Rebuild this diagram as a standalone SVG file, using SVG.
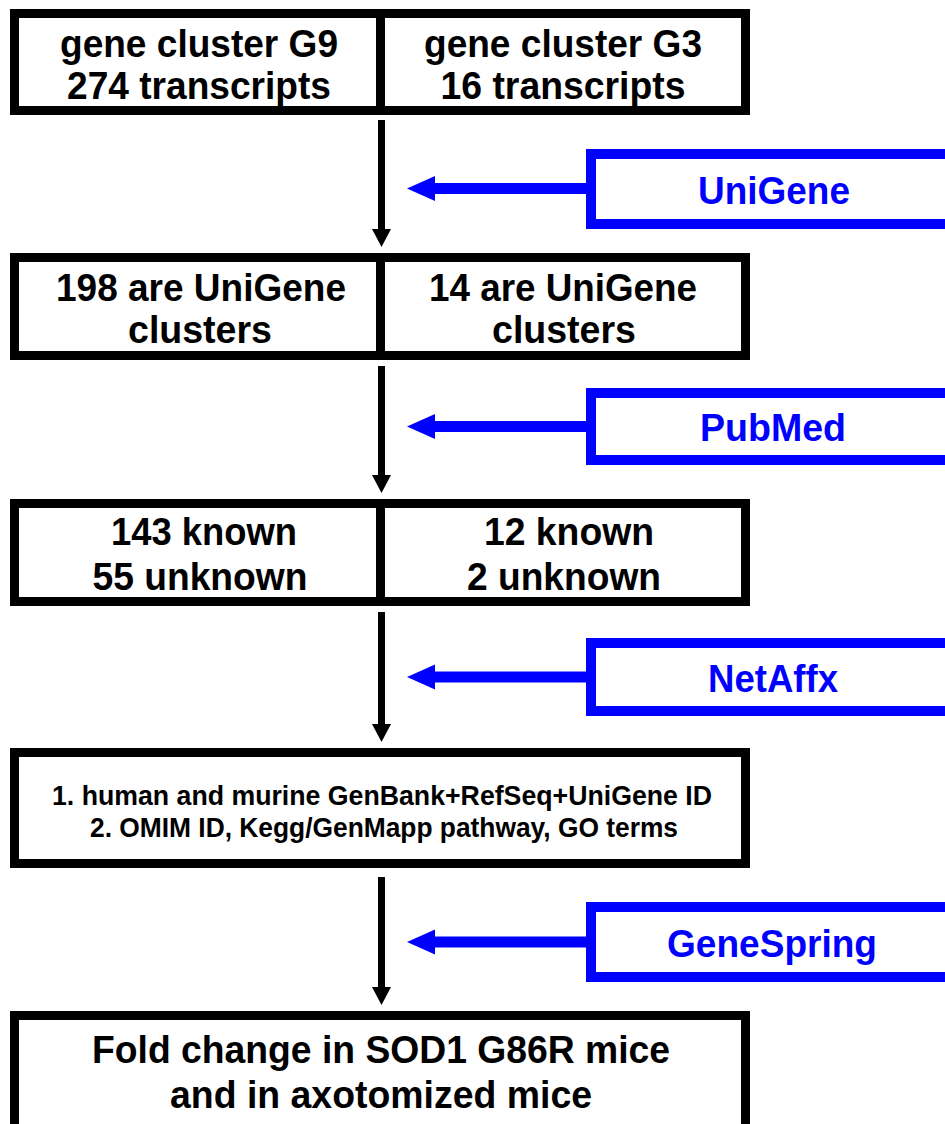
<svg xmlns="http://www.w3.org/2000/svg" width="945" height="1124" viewBox="0 0 945 1124">
<style>
.box{fill:#fff;stroke:#000;stroke-width:9}
.div{stroke:#000;stroke-width:9}
.bbox{fill:#fff;stroke:#0000ff;stroke-width:10}
.t{font-family:"Liberation Sans",Arial,sans-serif;font-weight:bold;font-size:39px;fill:#000;text-anchor:middle}
.s{font-family:"Liberation Sans",Arial,sans-serif;font-weight:bold;font-size:28px;fill:#000;text-anchor:middle}
.b{font-family:"Liberation Sans",Arial,sans-serif;font-weight:bold;font-size:38px;fill:#0000ff;text-anchor:middle}
.vline{stroke:#000;stroke-width:7}
.hline{stroke:#0000ff;stroke-width:11}
</style>
<rect width="945" height="1124" fill="#fff"/>
<g id="box1">
<rect class="box" x="14.5" y="13.5" width="731" height="97"/>
<line class="div" x1="380.5" y1="13" x2="380.5" y2="111"/>
<text class="t" x="199" y="57" textLength="278" lengthAdjust="spacingAndGlyphs">gene cluster G9</text>
<text class="t" x="199" y="99" textLength="264" lengthAdjust="spacingAndGlyphs">274 transcripts</text>
<text class="t" x="563" y="57" textLength="278" lengthAdjust="spacingAndGlyphs">gene cluster G3</text>
<text class="t" x="563" y="99" textLength="245" lengthAdjust="spacingAndGlyphs">16 transcripts</text>
</g>
<g id="box2">
<rect class="box" x="14.5" y="257.5" width="731" height="98"/>
<line class="div" x1="380.5" y1="257" x2="380.5" y2="356"/>
<text class="t" x="201" y="301" textLength="290" lengthAdjust="spacingAndGlyphs">198 are UniGene</text>
<text class="t" x="200" y="343" textLength="144" lengthAdjust="spacingAndGlyphs">clusters</text>
<text class="t" x="563" y="301" textLength="268" lengthAdjust="spacingAndGlyphs">14 are UniGene</text>
<text class="t" x="564" y="343" textLength="144" lengthAdjust="spacingAndGlyphs">clusters</text>
</g>
<g id="box3">
<rect class="box" x="14.5" y="503.5" width="731" height="98"/>
<line class="div" x1="380.5" y1="503" x2="380.5" y2="602"/>
<text class="t" x="204" y="545" textLength="186" lengthAdjust="spacingAndGlyphs">143 known</text>
<text class="t" x="200" y="590" textLength="215" lengthAdjust="spacingAndGlyphs">55 unknown</text>
<text class="t" x="569" y="545" textLength="170" lengthAdjust="spacingAndGlyphs">12 known</text>
<text class="t" x="564" y="590" textLength="194" lengthAdjust="spacingAndGlyphs">2 unknown</text>
</g>
<g id="box4">
<rect class="box" x="14.5" y="752.5" width="731" height="111"/>
<text class="s" x="382" y="805" textLength="660" lengthAdjust="spacingAndGlyphs">1. human and murine GenBank+RefSeq+UniGene ID</text>
<text class="s" x="384" y="837" textLength="588" lengthAdjust="spacingAndGlyphs">2. OMIM ID, Kegg/GenMapp pathway, GO terms</text>
</g>
<g id="box5">
<rect class="box" x="14.5" y="1015.5" width="731" height="130"/>
<text class="t" x="381" y="1063" textLength="578" lengthAdjust="spacingAndGlyphs">Fold change in SOD1 G86R mice</text>
<text class="t" x="381" y="1108" textLength="422" lengthAdjust="spacingAndGlyphs">and in axotomized mice</text>
</g>
<g id="unigene">
<rect class="bbox" x="591" y="154" width="400" height="70"/>
<text class="b" x="774" y="204" textLength="152" lengthAdjust="spacingAndGlyphs">UniGene</text>
</g>
<g id="pubmed">
<rect class="bbox" x="591" y="393" width="400" height="67"/>
<text class="b" x="773" y="441" textLength="146" lengthAdjust="spacingAndGlyphs">PubMed</text>
</g>
<g id="netaffx">
<rect class="bbox" x="591" y="643" width="400" height="68"/>
<text class="b" x="773" y="692" textLength="130" lengthAdjust="spacingAndGlyphs">NetAffx</text>
</g>
<g id="genespring">
<rect class="bbox" x="591" y="907" width="400" height="70"/>
<text class="b" x="772" y="957" textLength="210" lengthAdjust="spacingAndGlyphs">GeneSpring</text>
</g>
<g id="connectors">
<line class="vline" x1="381.5" y1="120" x2="381.5" y2="231"/>
<polygon points="372,229 391,229 381.5,247" fill="#000"/>
<line class="vline" x1="381.5" y1="366" x2="381.5" y2="477"/>
<polygon points="372,475 391,475 381.5,493" fill="#000"/>
<line class="vline" x1="381.5" y1="612" x2="381.5" y2="726"/>
<polygon points="372,724 391,724 381.5,742" fill="#000"/>
<line class="vline" x1="381.5" y1="877" x2="381.5" y2="989"/>
<polygon points="372,987 391,987 381.5,1005" fill="#000"/>
<line class="hline" x1="586" y1="188.5" x2="432" y2="188.5"/>
<polygon points="407,188.5 435,176 435,201" fill="#0000ff"/>
<line class="hline" x1="586" y1="426.5" x2="432" y2="426.5"/>
<polygon points="407,426.5 435,414 435,439" fill="#0000ff"/>
<line class="hline" x1="586" y1="677" x2="432" y2="677"/>
<polygon points="407,677 435,664.5 435,689.5" fill="#0000ff"/>
<line class="hline" x1="586" y1="942" x2="432" y2="942"/>
<polygon points="407,942 435,929.5 435,954.5" fill="#0000ff"/>
</g>
</svg>
